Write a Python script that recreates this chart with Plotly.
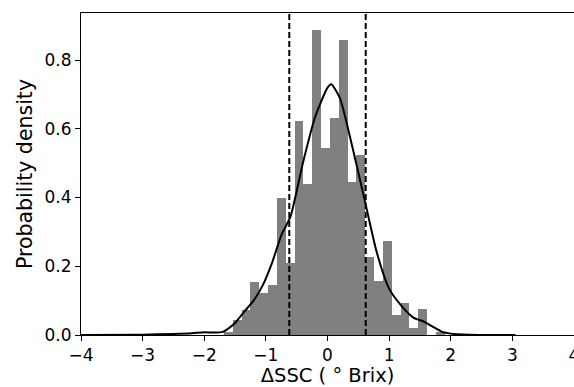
import plotly.graph_objects as go

# Histogram (probability density), 25 equal bins
bin_start = -1.68
bin_width = 0.1433
density = [0.010, 0.045, 0.073, 0.154, 0.121, 0.145, 0.399, 0.209, 0.623, 0.438,
           0.889, 0.543, 0.631, 0.858, 0.445, 0.524, 0.228, 0.157, 0.273, 0.058,
           0.092, 0.021, 0.076, 0.000, 0.009]

# KDE curve
kde_x = [-4.0, -3.0, -2.5, -2.2, -2.0, -1.85, -1.7, -1.6, -1.5, -1.35, -1.2, -1.05,
         -0.9, -0.75, -0.6, -0.4, -0.2, 0.0, 0.06, 0.2, 0.4, 0.6, 0.8, 1.0, 1.2,
         1.4, 1.55, 1.7, 1.85, 2.0, 2.3, 3.05]
kde_y = [0.0, 0.001, 0.003, 0.005, 0.008, 0.007, 0.009, 0.02, 0.035, 0.068, 0.10, 0.145,
         0.21, 0.29, 0.345, 0.50, 0.635, 0.72, 0.73, 0.69, 0.55, 0.395, 0.24, 0.135, 0.085,
         0.05, 0.04, 0.025, 0.01, 0.004, 0.001, 0.0]

# Dashed limits
limits = [-0.62, 0.62]

x_ticks = [-4, -3, -2, -1, 0, 1, 2, 3, 4]
y_ticks = [0.0, 0.2, 0.4, 0.6, 0.8]

centers = [bin_start + bin_width * (i + 0.5) for i in range(len(density))]

fig = go.Figure()
fig.add_trace(go.Bar(x=centers, y=density, width=[bin_width] * len(density),
                     marker=dict(color="#808080", line=dict(width=0)),
                     showlegend=False))
fig.add_trace(go.Scatter(x=kde_x, y=kde_y, mode="lines",
                         line=dict(color="black", width=2, shape="spline", smoothing=0.6),
                         showlegend=False))
for v in limits:
    fig.add_shape(type="line", x0=v, x1=v, y0=0, y1=1, xref="x", yref="paper",
                  line=dict(color="black", width=2, dash="6px,3px"))

font = "DejaVu Sans, sans-serif"
fig.update_layout(
    width=574, height=387,
    margin=dict(l=81, r=0, t=13, b=52, autoexpand=False),
    paper_bgcolor="white", plot_bgcolor="white",
    bargap=0,
    font=dict(family=font, size=17, color="black"),
    xaxis=dict(range=[-4, 4], tickvals=x_ticks, ticks="outside", ticklen=5,
               tickwidth=1, tickcolor="black", showline=True, linecolor="black",
               linewidth=1, mirror=True, showgrid=False, zeroline=False,
               ticklabeloverflow="allow", automargin=False,
               title=dict(text="ΔSSC ( ° Brix)", font=dict(size=19.5), standoff=7),
               tickfont=dict(size=17)),
    yaxis=dict(range=[0, 0.937], tickvals=y_ticks, tickformat=".1f", ticks="outside",
               ticklen=5, tickwidth=1, tickcolor="black", showline=True,
               linecolor="black", linewidth=1, showgrid=False, zeroline=False,
               automargin=False,
               title=dict(text="Probability density", font=dict(size=20.5), standoff=6),
               tickfont=dict(size=17)),
)
fig.write_html("out.html")
